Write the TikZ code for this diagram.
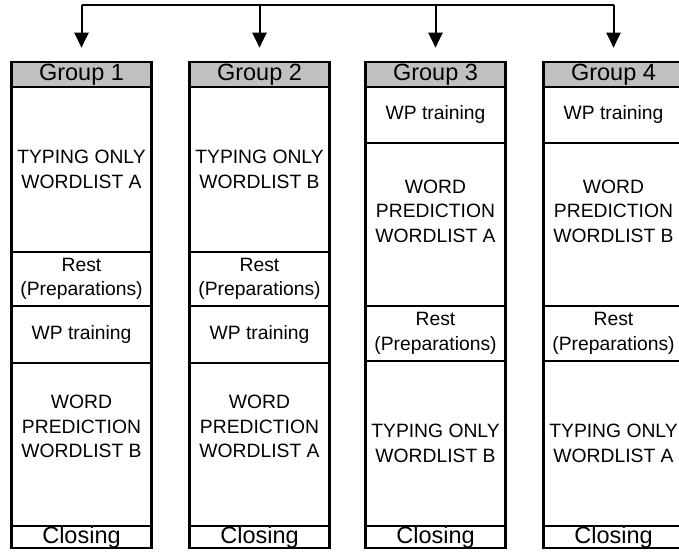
\documentclass[tikz,border=0pt]{standalone}
\usepackage{fontspec}
\usepackage{tikz}
\usetikzlibrary{arrows.meta}
\newfontfamily\arialfont{Liberation Sans}
\newcommand{\cellfont}{\arialfont\fontsize{19.3}{24.5}\selectfont}
\newcommand{\headfont}{\arialfont\fontsize{23.5}{26}\selectfont}
\definecolor{headgray}{HTML}{C0C0C0}

\begin{document}
\begin{tikzpicture}[x=1pt,y=-1pt]
\tikzset{cell/.style = {shape=rectangle,draw,line width=2.6pt,minimum width=140.5pt,inner sep=0pt,align=center,font=\cellfont}}
\tikzset{head/.style = {cell,fill=headgray,minimum height=25pt,font=\headfont}}
\tikzset{closing/.style = {cell,minimum height=22pt,font=\headfont}}
\tikzset{edge/.style = {->,> = {Triangle[width=14pt,length=15pt]},line width=2pt,shorten >=13pt}}
\useasboundingbox (0,0) rectangle (679,552);
\clip (0,0) rectangle (679,552);

% group 1
\node[head] (g1h) at (81.5,74.5) {Group 1};
\node[cell,minimum height=165pt] (g1a) at (81.5,169.5) {TYPING ONLY\\WORDLIST A};
\node[cell,minimum height=54pt] (g1b) at (81.5,279) {Rest\\(Preparations)};
\node[cell,minimum height=57pt] (g1c) at (81.5,334.5) {WP training};
\node[cell,minimum height=163pt,text depth=36pt] (g1d) at (81.5,444.5) {WORD\\PREDICTION\\WORDLIST B};
\node[closing] (g1e) at (81.5,537) {Closing};

% group 2
\node[head] (g2h) at (259.5,74.5) {Group 2};
\node[cell,minimum height=165pt] (g2a) at (259.5,169.5) {TYPING ONLY\\WORDLIST B};
\node[cell,minimum height=54pt] (g2b) at (259.5,279) {Rest\\(Preparations)};
\node[cell,minimum height=57pt] (g2c) at (259.5,334.5) {WP training};
\node[cell,minimum height=163pt,text depth=36pt] (g2d) at (259.5,444.5) {WORD\\PREDICTION\\WORDLIST A};
\node[closing] (g2e) at (259.5,537) {Closing};

% group 3
\node[head] (g3h) at (435.5,74.5) {Group 3};
\node[cell,minimum height=56pt] (g3a) at (435.5,115) {WP training};
\node[cell,minimum height=163pt,text depth=27pt] (g3b) at (435.5,224.5) {WORD\\PREDICTION\\WORDLIST A};
\node[cell,minimum height=55pt] (g3c) at (435.5,333.5) {Rest\\(Preparations)};
\node[cell,minimum height=165pt] (g3d) at (435.5,443.5) {TYPING ONLY\\WORDLIST B};
\node[closing] (g3e) at (435.5,537) {Closing};

% group 4
\node[head] (g4h) at (613.5,74.5) {Group 4};
\node[cell,minimum height=56pt] (g4a) at (613.5,115) {WP training};
\node[cell,minimum height=163pt,text depth=27pt] (g4b) at (613.5,224.5) {WORD\\PREDICTION\\WORDLIST B};
\node[cell,minimum height=55pt] (g4c) at (613.5,333.5) {Rest\\(Preparations)};
\node[cell,minimum height=165pt] (g4d) at (613.5,443.5) {TYPING ONLY\\WORDLIST A};
\node[closing] (g4e) at (613.5,537) {Closing};

% arrows to the groups
\coordinate (t1) at (81.5,5);
\coordinate (t2) at (259.5,5);
\coordinate (t3) at (435.5,5);
\coordinate (t4) at (613.5,5);
\draw[line width=2.5pt] (t1) -- (t4);
\draw[edge] (t1) to (g1h);
\draw[edge] (t2) to (g2h);
\draw[edge] (t3) to (g3h);
\draw[edge] (t4) to (g4h);
\end{tikzpicture}
\end{document}
